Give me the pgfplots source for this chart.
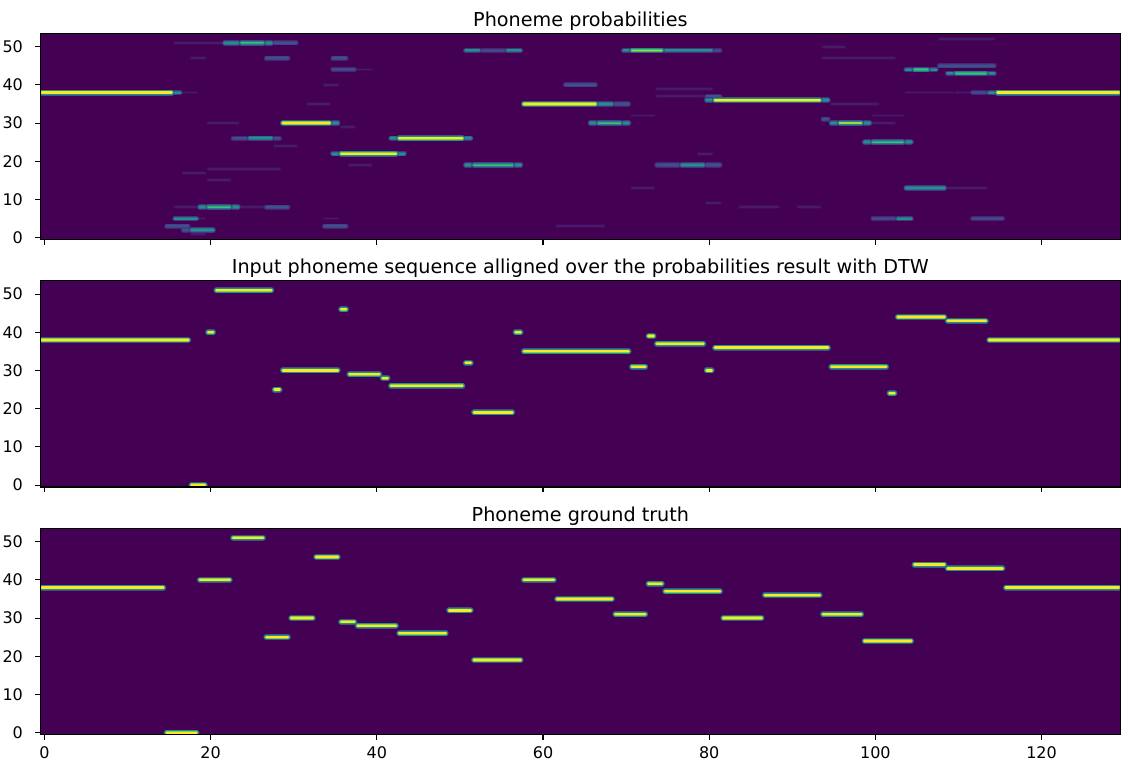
\documentclass[border=0pt]{standalone}
\usepackage{pgfplots}
\usepackage{pgfplotstable}
\pgfplotsset{compat=1.18}
\usepackage{fontspec}
\setmainfont{DejaVu Sans}

% viridis shades
\definecolor{vbg}{HTML}{440154}
\definecolor{v04}{HTML}{45095B}
\definecolor{v08}{HTML}{471A6B}
\definecolor{v10}{HTML}{482475}
\definecolor{v15}{HTML}{463480}
\definecolor{v20}{HTML}{414487}
\definecolor{v22}{HTML}{433E85}
\definecolor{v25}{HTML}{3B528B}
\definecolor{v35}{HTML}{31688E}
\definecolor{v40}{HTML}{2A788E}
\definecolor{v45}{HTML}{25848E}
\definecolor{v50}{HTML}{21918C}
\definecolor{v60}{HTML}{22A884}
\definecolor{v70}{HTML}{44BF70}
\definecolor{v80}{HTML}{7AD151}
\definecolor{v85}{HTML}{9BD93C}
\definecolor{v100}{HTML}{FDE725}

\newcommand{\ticksize}{\fontsize{8pt}{9.5pt}\selectfont}
\newcommand{\titlesize}{\fontsize{9.6pt}{11.5pt}\selectfont}

% segments: frames a..b at phoneme y
\pgfplotstableread{
a b y
0 15 38
29 34 30
36 42 22
43 50 26
58 66 35
81 93 36
115 129 38
}\topB

\pgfplotstableread{
a b y
71 74 49
96 98 30
}\topY

\pgfplotstableread{
a b y
24 26 51
20 22 8
52 56 19
67 69 30
100 103 25
105 106 44
110 113 43
}\topG

\pgfplotstableread{
a b y
16 16 38
22 23 51
27 27 51
35 35 30
25 27 26
35 35 22
43 43 22
42 42 26
51 51 26
51 52 49
56 57 49
51 51 19
57 57 19
19 19 8
23 23 8
16 18 5
18 20 2
67 68 35
66 66 30
70 70 30
70 70 49
75 80 49
77 79 19
80 80 36
94 94 36
95 95 30
99 99 30
99 99 25
104 104 25
104 108 13
103 104 5
104 104 44
107 107 44
109 109 43
114 114 43
114 114 38
}\topT

\pgfplotstableread{
a b y
28 30 51
27 29 47
35 36 47
35 37 44
23 24 26
28 28 26
27 29 8
15 17 3
17 17 2
34 36 3
53 55 49
69 70 35
63 66 40
74 76 19
80 81 19
80 81 37
81 81 49
94 94 31
100 102 5
112 115 5
108 114 45
112 113 38
}\topU

\pgfplotstableread{
a b y
17 18 38
16 21 51
18 19 47
38 39 44
34 35 40
32 34 35
20 23 30
36 37 29
28 30 24
37 39 19
17 19 17
20 28 18
20 22 15
16 18 8
24 26 8
19 19 5
34 35 5
18 19 1
71 73 32
71 73 13
80 81 9
79 80 22
62 67 3
74 79 37
74 80 39
95 100 35
100 102 30
100 103 32
109 113 13
84 88 8
91 93 8
108 114 52
94 96 50
94 102 47
104 109 38
110 111 38
}\topF

\pgfplotstableread{
a b y
0 17 38
18 19 0
20 20 40
21 27 51
28 28 25
29 35 30
36 36 46
37 40 29
41 41 28
42 50 26
51 51 32
52 56 19
57 57 40
58 70 35
71 72 31
73 73 39
74 79 37
80 80 30
81 94 36
95 101 31
102 102 24
103 108 44
109 113 43
114 129 38
}\dtw

\pgfplotstableread{
a b y
0 14 38
15 18 0
19 22 40
23 26 51
27 29 25
30 32 30
33 35 46
36 37 29
38 42 28
43 48 26
49 51 32
52 57 19
58 61 40
62 68 35
69 72 31
73 74 39
75 81 37
82 86 30
87 93 36
94 98 31
99 104 24
105 108 44
109 115 43
116 129 38
}\truth

\pgfplotsset{
  seg/.style 2 args={forget plot, draw=none, mark=none,
    error bars/x dir=both, error bars/x explicit, error bars/error mark=none,
    error bars/error bar style={line width=#1, draw=#2, line cap=round, solid}},
  /pgfplots/table/segxy/.style={x expr={(\thisrow{a}+\thisrow{b})/2}, y=y,
    x error expr={(\thisrow{b}-\thisrow{a}+1)/2-0.2}},
  panel/.style={
    scale only axis, width=540.1pt, height=103.15pt, anchor=north west,
    xmin=-0.5, xmax=129.5, ymin=-0.5, ymax=53.5,
    xtick={0,20,...,120}, ytick={0,10,...,50},
    xtick pos=left, ytick pos=left, tick align=outside,
    major tick length=2.5pt,
    tick style={black, line width=0.55pt},
    axis line style={black, line width=0.55pt},
    axis on top,
    axis background/.style={fill=vbg},
    tick label style={font=\ticksize},
    /pgf/number format/assume math mode=true,
    title style={font=\titlesize, anchor=base, yshift=-2.6pt},
    yticklabel style={anchor=east, inner sep=0pt, xshift=-6pt},
    xticklabel style={anchor=north, inner sep=0pt, yshift=-3.5pt},
  },
}

\newcommand{\segB}[1]{%
  \addplot[seg={3pt}{v25}] table[segxy]{#1};
  \addplot[seg={2.3pt}{v50}] table[segxy]{#1};
  \addplot[seg={1.6pt}{v80}] table[segxy]{#1};
  \addplot[seg={1.1pt}{v100}] table[segxy]{#1};
}
\newcommand{\segY}[1]{%
  \addplot[seg={2.8pt}{v25}] table[segxy]{#1};
  \addplot[seg={2pt}{v45}] table[segxy]{#1};
  \addplot[seg={1.3pt}{v70}] table[segxy]{#1};
  \addplot[seg={0.6pt}{v85}] table[segxy]{#1};
}
\newcommand{\segG}[1]{%
  \addplot[seg={2.8pt}{v20}] table[segxy]{#1};
  \addplot[seg={2pt}{v40}] table[segxy]{#1};
  \addplot[seg={1.1pt}{v60}] table[segxy]{#1};
  \addplot[seg={0.5pt}{v70}] table[segxy]{#1};
}
\newcommand{\segT}[1]{%
  \addplot[seg={2.7pt}{v15}] table[segxy]{#1};
  \addplot[seg={1.9pt}{v35}] table[segxy]{#1};
  \addplot[seg={1pt}{v50}] table[segxy]{#1};
}
\newcommand{\segU}[1]{%
  \addplot[seg={2.6pt}{v10}] table[segxy]{#1};
  \addplot[seg={1.8pt}{v22}] table[segxy]{#1};
  \addplot[seg={0.9pt}{v25}] table[segxy]{#1};
}
\newcommand{\segF}[1]{%
  \addplot[seg={1.9pt}{v04}] table[segxy]{#1};
  \addplot[seg={0.9pt}{v08}] table[segxy]{#1};
}

\begin{document}
\begin{tikzpicture}
\useasboundingbox (0,0) rectangle (560.5pt,-382.5pt);

\begin{axis}[panel, at={(20.15pt,-16.65pt)}, xticklabels={},
  title={Phoneme probabilities}]
  \segF{\topF}
  \segU{\topU}
  \segT{\topT}
  \segG{\topG}
  \segY{\topY}
  \segB{\topB}
\end{axis}

\begin{axis}[panel, at={(20.15pt,-140.35pt)}, xticklabels={},
  title={Input phoneme sequence alligned over the probabilities result with DTW}]
  \segB{\dtw}
\end{axis}

\begin{axis}[panel, at={(20.15pt,-264.15pt)},
  title={Phoneme ground truth}]
  \segB{\truth}
\end{axis}
\end{tikzpicture}
\end{document}
